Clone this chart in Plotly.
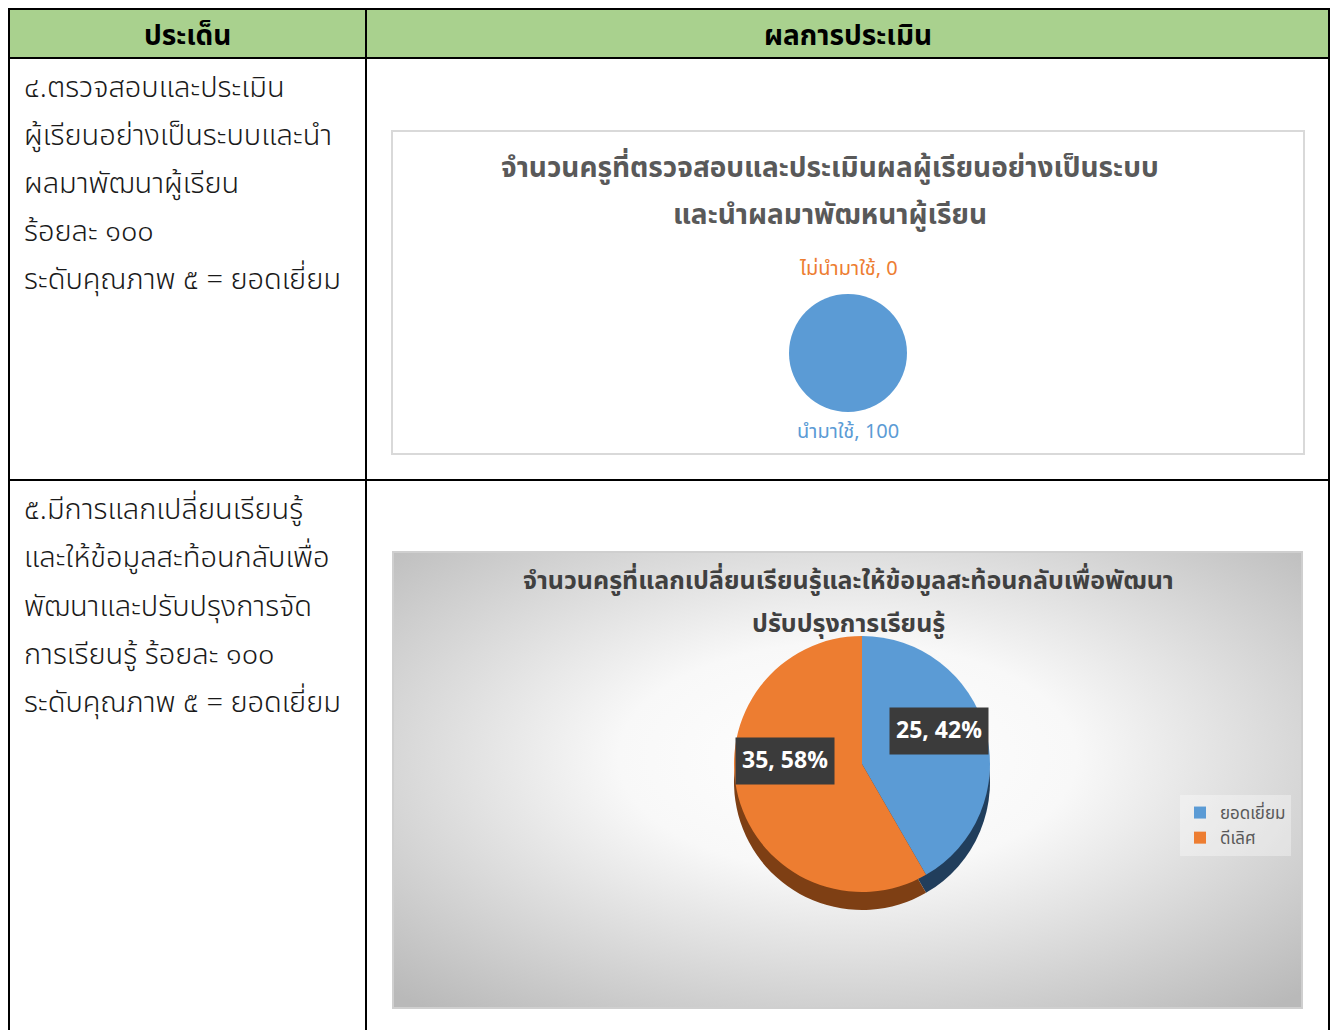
import base64
import numpy as np
import plotly.graph_objects as go

# page offset of the plot div (default body margin) and figure size
OFF = 8
W, H = 1330, 1022

# ---------------- data ----------------
header_labels = ["ประเด็น", "ผลการประเมิน"]
row1_text = ["๔.ตรวจสอบและประเมิน", "ผู้เรียนอย่างเป็นระบบและนำ", "ผลมาพัฒนาผู้เรียน",
             "ร้อยละ ๑๐๐", "ระดับคุณภาพ ๕ = ยอดเยี่ยม"]
row2_text = ["๕.มีการแลกเปลี่ยนเรียนรู้", "และให้ข้อมูลสะท้อนกลับเพื่อ", "พัฒนาและปรับปรุงการจัด",
             "การเรียนรู้ ร้อยละ ๑๐๐", "ระดับคุณภาพ ๕ = ยอดเยี่ยม"]

chart1_title = ["จำนวนครูที่ตรวจสอบและประเมินผลผู้เรียนอย่างเป็นระบบ", "และนำผลมาพัฒหนาผู้เรียน"]
chart1_labels = ["นำมาใช้", "ไม่นำมาใช้"]
chart1_values = [100, 0]

chart2_title = ["จำนวนครูที่แลกเปลี่ยนเรียนรู้และให้ข้อมูลสะท้อนกลับเพื่อพัฒนา", "ปรับปรุงการเรียนรู้"]
chart2_labels = ["ยอดเยี่ยม", "ดีเลิศ"]
chart2_values = [25, 35]

# ---------------- style ----------------
FONT = "Noto Sans Thai, Noto Sans, Tahoma, sans-serif"
BLUE, ORANGE = "#5b9bd5", "#ed7d31"
BLUE_SIDE, ORANGE_SIDE = "#213e5c", "#7e3f14"
GRAY_TXT = "#595959"


def fx(px):
    return (px - OFF) / W


def fy(py):
    return 1 - (py - OFF) / H


def note(x, y, text, size, color, xanchor="center", weight=None, **kw):
    f = dict(family=FONT, size=size, color=color)
    if weight:
        f["weight"] = weight
    fig.add_annotation(x=fx(x), y=fy(y), xref="paper", yref="paper", showarrow=False,
                       xanchor=xanchor, yanchor="middle", text=text, font=f, **kw)


fig = go.Figure()

# ---------- chart 2 gradient background (svg image) ----------
svg = """<svg xmlns='http://www.w3.org/2000/svg' width='909' height='456'>
<defs><radialGradient id='g' cx='50%' cy='45%' r='72%'>
<stop offset='0%' stop-color='#ffffff'/><stop offset='35%' stop-color='#f8f8f8'/>
<stop offset='100%' stop-color='#b9b9b9'/></radialGradient></defs>
<rect width='909' height='456' fill='url(#g)'/></svg>"""
src = "data:image/svg+xml;base64," + base64.b64encode(svg.encode()).decode()
fig.add_layout_image(source=src, xref="paper", yref="paper", x=fx(393), y=fy(552),
                     sizex=fx(1302) - fx(393), sizey=fy(552) - fy(1008),
                     xanchor="left", yanchor="top", sizing="stretch", layer="below")


def pie_domain(cx, cy, r):
    return dict(x=[fx(cx - r), fx(cx + r)], y=[fy(cy + r), fy(cy - r)])


# ---------- chart 1 pie ----------
c1x, c1y, r1 = 848, 353, 59
fig.add_trace(go.Pie(labels=chart1_labels, values=chart1_values, sort=False,
                     direction="clockwise", rotation=0, textinfo="none",
                     marker=dict(colors=[BLUE, ORANGE], line=dict(width=0)),
                     domain=pie_domain(c1x, c1y, r1), showlegend=False, hoverinfo="skip"))

# labels for chart1 computed from data (outside the slices)
vals1 = np.array(chart1_values, dtype=float)
cum1 = np.cumsum(vals1) - vals1 / 2
ang1 = np.deg2rad(cum1 / vals1.sum() * 360)
for lab, v, a, col in zip(chart1_labels, chart1_values, ang1, [BLUE, ORANGE]):
    rr = r1 + 20 if np.cos(a) < 0 else r1 + 25
    note(c1x + rr * np.sin(a), c1y - rr * np.cos(a), f"{lab}, {v}", 20, col)

# ---------- chart 2 pie (3D-ish: side + top) ----------
c2x, c2y, r2 = 862, 764, 128
depth = 18
fig.add_trace(go.Pie(labels=chart2_labels, values=chart2_values, sort=False,
                     direction="clockwise", rotation=0, textinfo="none",
                     marker=dict(colors=[BLUE_SIDE, ORANGE_SIDE], line=dict(width=0)),
                     domain=pie_domain(c2x, c2y + depth, r2), showlegend=False, hoverinfo="skip"))
fig.add_trace(go.Pie(labels=chart2_labels, values=chart2_values, sort=False,
                     direction="clockwise", rotation=0, textinfo="none",
                     marker=dict(colors=[BLUE, ORANGE], line=dict(width=0)),
                     domain=pie_domain(c2x, c2y, r2), showlegend=True, hoverinfo="skip"))

vals2 = np.array(chart2_values, dtype=float)
pct2 = vals2 / vals2.sum()
mid2 = np.deg2rad((np.cumsum(vals2) - vals2 / 2) / vals2.sum() * 360)
for v, p, a in zip(chart2_values, pct2, mid2):
    k = 0.62 * r2
    note(c2x + k * np.sin(a), c2y - 0.75 * k * np.cos(a) - 18,
         f"<b>{v}, {p*100:.0f}%</b>", 23, "white", bgcolor="#3b3b3b", borderpad=6)

# ---------- titles ----------
for i, t in enumerate(chart1_title):
    note(830, [168, 215][i], f"<b>{t}</b>", 28, GRAY_TXT)
for i, t in enumerate(chart2_title):
    note(848, [581, 624][i], f"<b>{t}</b>", 25, "#404040")

# ---------- table text ----------
note(187, 36, f"<b>{header_labels[0]}</b>", 28, "black")
note(848, 36, f"<b>{header_labels[1]}</b>", 28, "black")
for i, t in enumerate(row1_text):
    note(22, 88 + 48 * i, t, 29, "#1a1a1a", xanchor="left", weight=300)
for i, t in enumerate(row2_text):
    note(22, 510 + 48.3 * i, t, 29, "#1a1a1a", xanchor="left", weight=300)

# ---------- shapes: table + chart frames ----------
shapes = [
    dict(type="rect", x0=fx(8), x1=fx(1330), y0=fy(58), y1=fy(8), fillcolor="#a9d18e",
         line=dict(width=0), layer="below"),
    dict(type="rect", x0=fx(392), x1=fx(1304), y0=fy(454), y1=fy(131), fillcolor="white",
         line=dict(color="#d9d9d9", width=2), layer="below"),
    dict(type="rect", x0=fx(393), x1=fx(1302), y0=fy(1008), y1=fy(552), fillcolor="rgba(0,0,0,0)",
         line=dict(color="#cfcfcf", width=2), layer="below"),
    dict(type="line", x0=fx(8), x1=fx(1330), y0=fy(9), y1=fy(9), line=dict(color="black", width=2)),
    dict(type="line", x0=fx(8), x1=fx(1330), y0=fy(58), y1=fy(58), line=dict(color="black", width=2)),
    dict(type="line", x0=fx(8), x1=fx(1330), y0=fy(480), y1=fy(480), line=dict(color="black", width=2)),
    dict(type="line", x0=fx(9), x1=fx(9), y0=fy(8), y1=fy(1032), line=dict(color="black", width=2)),
    dict(type="line", x0=fx(366), x1=fx(366), y0=fy(8), y1=fy(1032), line=dict(color="black", width=2)),
    dict(type="line", x0=fx(1329), x1=fx(1329), y0=fy(8), y1=fy(1032), line=dict(color="black", width=2)),
]
for s in shapes:
    s.update(xref="paper", yref="paper")

fig.update_layout(
    width=W, height=H, margin=dict(l=0, r=0, t=0, b=0),
    paper_bgcolor="white", plot_bgcolor="white",
    shapes=shapes,
    font=dict(family=FONT),
    legend=dict(x=fx(1180), y=fy(795), xanchor="left", yanchor="top",
                bgcolor="rgba(255,255,255,0.35)", font=dict(family=FONT, size=17, color=GRAY_TXT),
                itemwidth=30, traceorder="normal"),
)

fig.write_html("out.html")
